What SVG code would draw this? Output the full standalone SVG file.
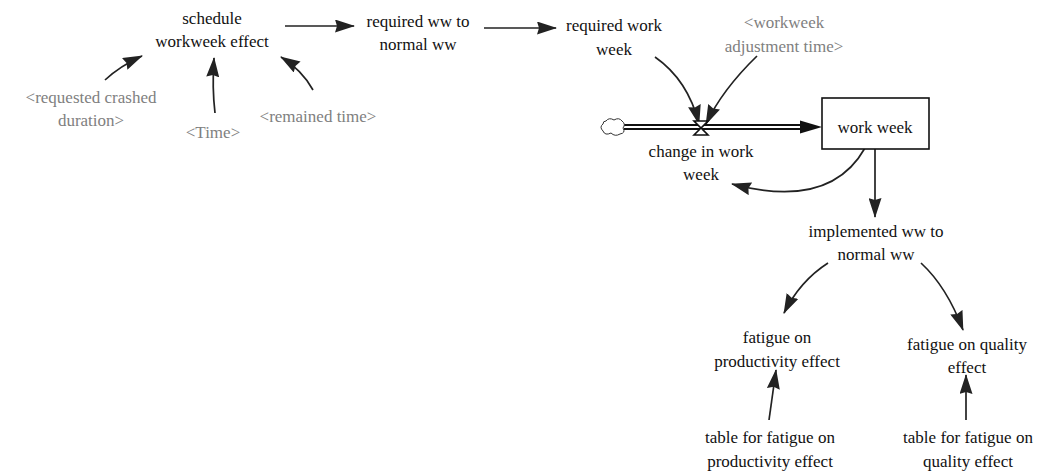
<svg xmlns="http://www.w3.org/2000/svg" width="1050" height="476" viewBox="0 0 1050 476">
<defs>
<style>
.t{font-family:'Liberation Serif','Times New Roman',serif;font-size:17px;fill:#111;text-anchor:middle}
.sh{fill:#808080}
.link{fill:none;stroke:#222;stroke-width:1.7}
</style>
<marker id="ah" viewBox="0 0 20 13" refX="19" refY="6.5" markerWidth="20" markerHeight="13" markerUnits="userSpaceOnUse" orient="auto">
<path d="M0,0 L20,6.5 L0,13 L2,6.5 Z" fill="#222"/>
</marker>
</defs>
<rect width="1050" height="476" fill="#fff"/>
<g id="connectors">
<path class="link" d="M105,80 Q120,66 142,56" marker-end="url(#ah)"/>
<path class="link" d="M215,113 Q212,88 214,58" marker-end="url(#ah)"/>
<path class="link" d="M313,90 Q302,70 281,57" marker-end="url(#ah)"/>
<path class="link" d="M285,26 L354,26" marker-end="url(#ah)"/>
<path class="link" d="M484,28 L556,28" marker-end="url(#ah)"/>
<path class="link" d="M655,57 Q688,80 699,124" marker-end="url(#ah)"/>
<path class="link" d="M757,56 Q722,90 706,124" marker-end="url(#ah)"/>
<path class="link" d="M865,148 Q830,210 732,184" marker-end="url(#ah)"/>
<path class="link" d="M875,149 L875,217" marker-end="url(#ah)"/>
<path class="link" d="M828,263 Q800,281 784,313" marker-end="url(#ah)"/>
<path class="link" d="M921,263 Q947,287 963,330" marker-end="url(#ah)"/>
<path class="link" d="M769,420 L776,370" marker-end="url(#ah)"/>
<path class="link" d="M966,420 L966,375" marker-end="url(#ah)"/>
<g id="flow">
<path d="M624,127 L806,127" stroke="#111" stroke-width="6" fill="none"/>
<path d="M624,127 L806,127" stroke="#fff" stroke-width="2" fill="none"/>
<path d="M800,120.5 L822,127 L800,133.5 Z" fill="#111"/>
</g>
</g>
<g id="cloud">
<path d="M606,121 Q609,117 614,120 Q619,117 622,121 Q626,124 623,128 Q626,133 620,134 Q615,137 611,133 Q605,136 603,131 Q599,127 603,124 Q603,121 606,121 Z" fill="#fff" stroke="#333" stroke-width="1"/>
</g>
<g id="valve">
<path d="M694,121 L708,121 L701,128 Z M701,128 L694,135 L708,135 Z" fill="#fff" stroke="#111" stroke-width="1.6"/>
</g>
<g id="schedule_workweek_effect"><text class="t" x="212" y="24">schedule</text><text class="t" x="212" y="47">workweek effect</text></g>
<g id="requested_crashed_duration"><text class="t sh" x="91" y="103">&lt;requested crashed</text><text class="t sh" x="91" y="126">duration&gt;</text></g>
<g id="time"><text class="t sh" x="213" y="138">&lt;Time&gt;</text></g>
<g id="remained_time"><text class="t sh" x="318" y="122">&lt;remained time&gt;</text></g>
<g id="required_ww_to_normal_ww"><text class="t" x="418" y="27">required ww to</text><text class="t" x="418" y="50">normal ww</text></g>
<g id="required_work_week"><text class="t" x="614" y="31">required work</text><text class="t" x="614" y="55">week</text></g>
<g id="workweek_adjustment_time"><text class="t sh" x="784" y="28">&lt;workweek</text><text class="t sh" x="784" y="52">adjustment time&gt;</text></g>
<g id="change_in_work_week"><text class="t" x="701" y="157">change in work</text><text class="t" x="701" y="180">week</text></g>
<g id="work_week"><rect x="822" y="98" width="107" height="51" fill="#fff" stroke="#111" stroke-width="1.6"/><text class="t" x="875" y="133">work week</text></g>
<g id="implemented_ww_to_normal_ww"><text class="t" x="876" y="237">implemented ww to</text><text class="t" x="876" y="260">normal ww</text></g>
<g id="fatigue_on_productivity_effect"><text class="t" x="777" y="343">fatigue on</text><text class="t" x="777" y="367">productivity effect</text></g>
<g id="fatigue_on_quality_effect"><text class="t" x="967" y="350">fatigue on quality</text><text class="t" x="967" y="373">effect</text></g>
<g id="table_fatigue_productivity"><text class="t" x="770" y="443">table for fatigue on</text><text class="t" x="770" y="467">productivity effect</text></g>
<g id="table_fatigue_quality"><text class="t" x="968" y="443">table for fatigue on</text><text class="t" x="968" y="467">quality effect</text></g>
</svg>
